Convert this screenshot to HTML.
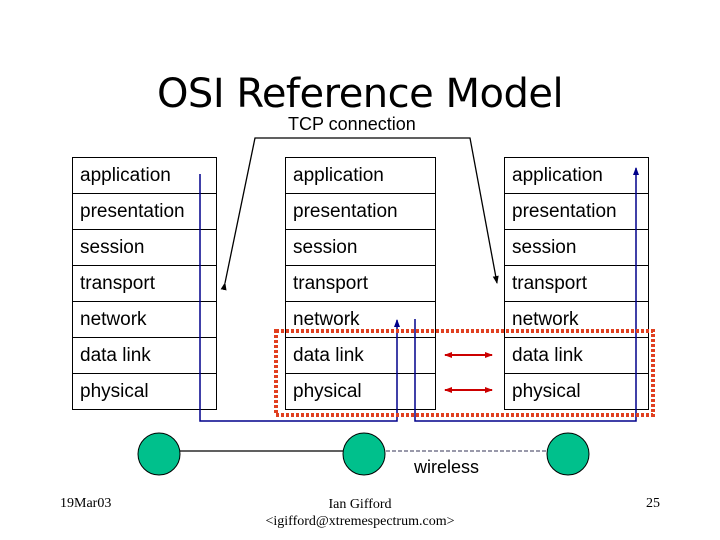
<!DOCTYPE html><html><head><style>
body{margin:0;background:#fff}
.s{position:absolute;font-family:"Liberation Sans",sans-serif;font-size:19px;color:#000}
.r{position:absolute;border:1px solid #000;box-sizing:border-box;height:37px;padding:7px 0 0 7px}
</style></head><body>
<div style="position:relative;width:720px;height:540px;overflow:hidden">
<div class="s" style="left:0;width:720px;top:71px;text-align:center;font-family:'DejaVu Sans',sans-serif;font-size:40px;letter-spacing:-0.5px">OSI Reference Model</div>
<div class="s" style="left:288px;top:114px;font-size:18px">TCP connection</div>
<div id="stacks"></div>
<svg width="720" height="540" style="position:absolute;left:0;top:0">
<defs>
<marker id="a" markerWidth="8" markerHeight="8" refX="7" refY="4" orient="auto" markerUnits="userSpaceOnUse"><path d="M0,1 L8,4 L0,7z" fill="#000"/></marker>
<marker id="b" markerWidth="8" markerHeight="8" refX="7" refY="4" orient="auto" markerUnits="userSpaceOnUse"><path d="M0,1 L8,4 L0,7z" fill="#00008b"/></marker>
<marker id="c" markerWidth="8" markerHeight="8" refX="7" refY="4" orient="auto" markerUnits="userSpaceOnUse"><path d="M0,1 L8,4 L0,7z" fill="#c00"/></marker>
<marker id="c2" markerWidth="8" markerHeight="8" refX="1" refY="4" orient="auto" markerUnits="userSpaceOnUse"><path d="M8,1 L0,4 L8,7z" fill="#c00"/></marker>
</defs>
<polyline points="225,283 255,138 470,138 497,283" fill="none" stroke="#000" stroke-width="1.3" marker-start="url(#a)" marker-end="url(#a)"/>
<polyline points="200,174 200,421 397,421 397,320" fill="none" stroke="#00008b" stroke-width="1.5" marker-end="url(#b)"/>
<polyline points="415,319 415,421 636,421 636,168" fill="none" stroke="#00008b" stroke-width="1.5" marker-end="url(#b)"/>
<rect x="276" y="331" width="377" height="84" fill="none" stroke="#e04020" stroke-width="4" stroke-dasharray="3,2"/>
<line x1="445" y1="355" x2="492" y2="355" stroke="#c00" stroke-width="2" marker-start="url(#c2)" marker-end="url(#c)"/>
<line x1="445" y1="390" x2="492" y2="390" stroke="#c00" stroke-width="2" marker-start="url(#c2)" marker-end="url(#c)"/>
<line x1="179" y1="451" x2="344" y2="451" stroke="#000" stroke-width="1.3"/>
<line x1="386" y1="451" x2="547" y2="451" stroke="#335" stroke-width="1" stroke-dasharray="4,2"/>
<ellipse cx="159" cy="454" rx="21" ry="21" fill="#00c08c" stroke="#000"/>
<ellipse cx="364" cy="454" rx="21" ry="21" fill="#00c08c" stroke="#000"/>
<ellipse cx="568" cy="454" rx="21" ry="21" fill="#00c08c" stroke="#000"/>
</svg>
<div class="s" style="left:414px;top:457px;font-size:18px">wireless</div>
<div class="s" style="left:60px;top:496px;font-family:'Liberation Serif',serif;font-size:14px">19Mar03</div>
<div class="s" style="left:240px;top:496px;width:240px;text-align:center;font-family:'Liberation Serif',serif;font-size:14px;line-height:17px">Ian Gifford<br>&lt;igifford@xtremespectrum.com&gt;</div>
<div class="s" style="left:646px;top:496px;font-family:'Liberation Serif',serif;font-size:14px">25</div>
<script>
var L=["application","presentation","session","transport","network","data link","physical"];
var X=[[72,145],[285,151],[504,145]],h="";
X.forEach(function(x){L.forEach(function(t,i){h+='<div class="s r" style="left:'+x[0]+'px;top:'+(157+i*36)+'px;width:'+x[1]+'px">'+t+'</div>';});});
document.getElementById("stacks").innerHTML=h;
</script>
</div></body></html>
